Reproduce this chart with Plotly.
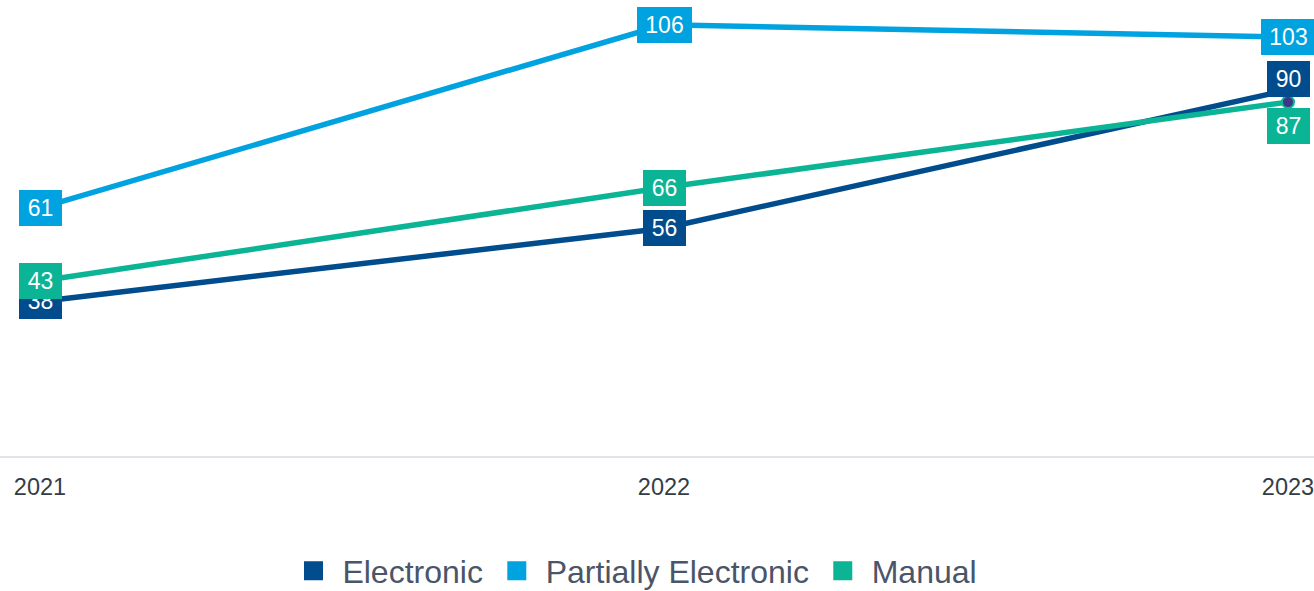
import plotly.graph_objects as go

years = [2021, 2022, 2023]
electronic = [38, 56, 90]
partially = [61, 106, 103]
manual = [43, 66, 87]
tick_labels = ["2021", "2022", "2023"]

series = [
    ("Electronic", electronic, "#004C8C"),
    ("Partially Electronic", partially, "#00A3E0"),
    ("Manual", manual, "#0BB495"),
]

# label vertical offsets (px) to avoid overlapping labels at 2023
label_shift = {("Electronic", 2): 11, ("Manual", 2): -24}

FONT = "Liberation Sans, Arial, sans-serif"
NB = "\u00a0"

fig = go.Figure()
for name, vals, color in series:
    is_manual = name == "Manual"
    fig.add_trace(go.Scatter(
        x=years, y=vals, mode="lines+markers" if is_manual else "lines",
        line=dict(color=color, width=5.5),
        marker=dict(size=[0, 0, 12] if is_manual else 0, color="#3F3585",
                    opacity=1, line=dict(color=color, width=2)),
        showlegend=False, hoverinfo="skip",
    ))
# legend entries with square symbols
for name, vals, color in series:
    fig.add_trace(go.Scatter(
        x=[None], y=[None], mode="markers", name=NB + name + NB,
        marker=dict(symbol="square", size=20, color=color,
                    line=dict(color=color, width=3)),
    ))

annotations = []
for name, vals, color in series:
    for i, (x, v) in enumerate(zip(years, vals)):
        txt = str(v)
        annotations.append(dict(
            x=x, y=v, xref="x", yref="y", text=txt, showarrow=False,
            font=dict(family=FONT, size=23, color="white"),
            bgcolor=color, borderpad=0, borderwidth=0,
            width=43 if len(txt) < 3 else 55, height=36,
            yshift=label_shift.get((name, i), 0),
        ))

fig.update_layout(
    width=1314, height=591,
    margin=dict(l=0, r=0, t=0, b=135, autoexpand=False),
    paper_bgcolor="white", plot_bgcolor="white",
    font=dict(family=FONT),
    annotations=annotations,
    xaxis=dict(
        range=[2021 - 40 / 624, 2023 + 26 / 624],
        tickvals=years, ticktext=tick_labels,
        tickfont=dict(family=FONT, size=23.5, color="#333D47"),
        showgrid=False, zeroline=False,
        showline=True, linecolor="#E0E3E7", linewidth=2,
        ticks="", ticklabelstandoff=9, ticklabeloverflow="allow",
    ),
    yaxis=dict(range=[0, 112.1], visible=False, showgrid=False, zeroline=False),
    legend=dict(
        orientation="h", x=0.4886, xanchor="center", y=-0.252, yanchor="middle",
        font=dict(family=FONT, size=32, color="#4A5568"),
        itemclick=False, itemdoubleclick=False,
    ),
    showlegend=True,
)

fig.write_html(
    "out.html",
    config={"displayModeBar": False},
    post_script="document.body.style.margin='0px';document.body.style.overflow='hidden';",
)
